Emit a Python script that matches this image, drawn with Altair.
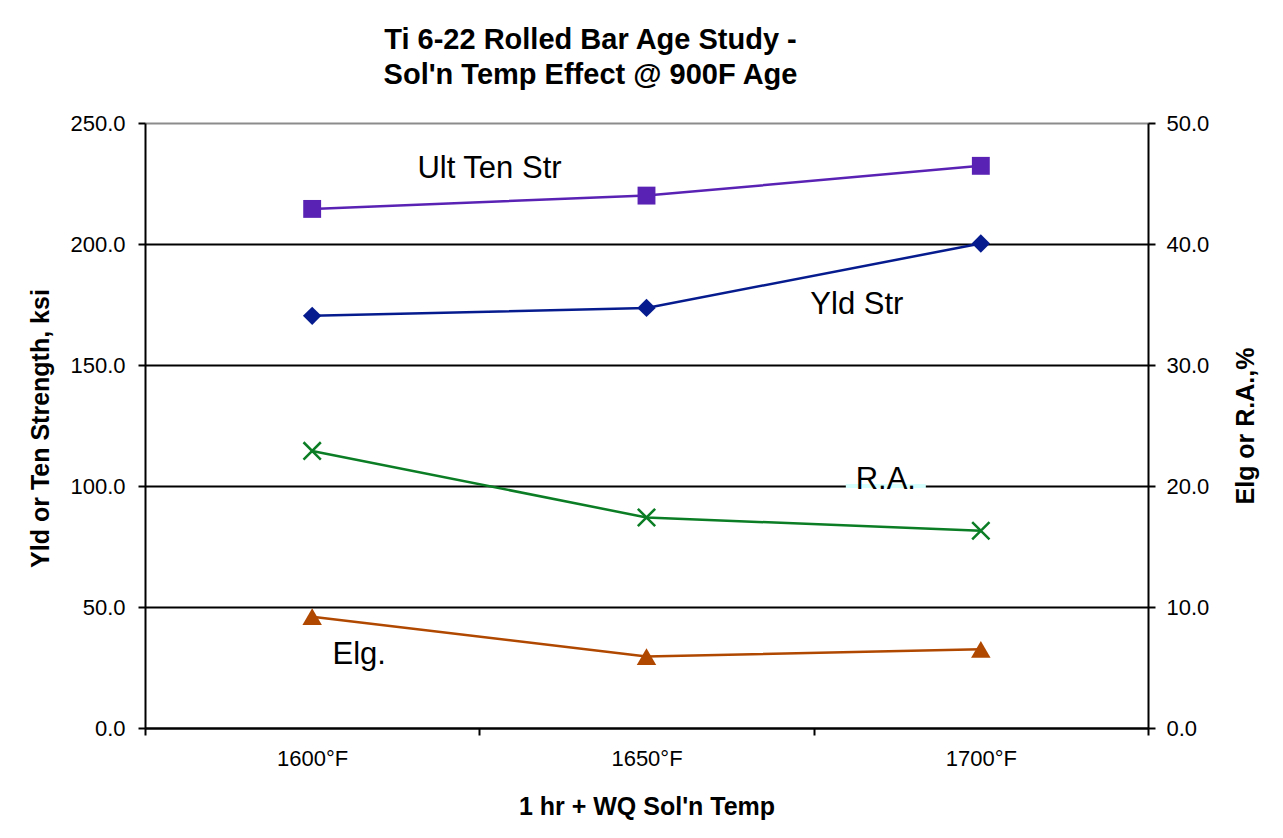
import altair as alt
import pandas as pd

# ---- data ----
categories = ["1600°F", "1650°F", "1700°F"]
ult_ten_str = [214.5, 220.0, 232.3]
yld_str = [170.3, 173.6, 200.2]
red_area = [22.9, 17.4, 16.3]
elongation = [9.2, 5.9, 6.5]

label_text = ["Ult Ten Str", "Yld Str", "R.A.", "Elg."]
label_cat = ["1650°F", "1700°F", "1700°F", "1600°F"]
label_val = [231.0, 174.6, 20.5, 6.0]

left_ticks = [0, 50, 100, 150, 200, 250]
right_ticks = [0, 10, 20, 30, 40, 50]

FONT = "Liberation Sans"
BG = "#D5FFFF"
C_ULT = "#5A22B4"
C_YLD = "#061C8E"
C_RA = "#0B7D24"
C_ELG = "#B04800"

data = pd.DataFrame({"cat": categories, "ult": ult_ten_str, "yld": yld_str,
                     "ra": red_area, "elg": elongation})
ann = pd.DataFrame({"label": label_text, "cat": label_cat, "val": label_val})

x_enc = alt.X(
    "cat:N", sort=categories, bandPosition=0.5,
    scale=alt.Scale(type="band", paddingInner=0, paddingOuter=0),
    axis=alt.Axis(
        title="1 hr + WQ Sol'n Temp", tickBand="extent", labelAngle=0,
        labelFont=FONT, labelFontSize=22, labelColor="black", labelPadding=13,
        labelOverlap=False,
        tickSize=7, tickWidth=2, tickColor="black",
        domainColor="black", domainWidth=2,
        titleFont=FONT, titleFontSize=25, titleFontWeight="bold", titleColor="black",
        titleX=501.5, titleY=78, titleBaseline="middle", titleAlign="center",
        grid=False,
    ),
)

left_axis = alt.Axis(
    title="Yld or Ten Strength, ksi", values=left_ticks, format=".1f",
    labelFont=FONT, labelFontSize=22, labelColor="black", labelPadding=13,
    tickSize=7, tickWidth=2, tickColor="black",
    domainColor="black", domainWidth=2,
    grid=True, gridWidth=2,
    gridColor={"condition": {"test": "datum.value === 250", "value": "#8c8c8c"}, "value": "black"},
    titleFont=FONT, titleFontSize=25, titleFontWeight="bold", titleColor="black",
    titleAngle=-90, titleX=-105, titleY=305, titleAlign="center", titleBaseline="middle",
)
right_axis = alt.Axis(
    title="Elg or R.A.,%", values=right_ticks, format=".1f", orient="right",
    labelFont=FONT, labelFontSize=22, labelColor="black", labelPadding=11,
    tickSize=7, tickWidth=2, tickColor="black",
    domainColor="black", domainWidth=2, grid=False,
    titleFont=FONT, titleFontSize=25, titleFontWeight="bold", titleColor="black",
    titleAngle=-90, titleX=97, titleY=302.5, titleAlign="center", titleBaseline="middle",
)

left_scale = alt.Scale(domain=[0, 250], nice=False, zero=True)
right_scale = alt.Scale(domain=[0, 50], nice=False, zero=True)


def yl(field):
    return alt.Y(field, type="quantitative", scale=left_scale, axis=left_axis)


def yr(field):
    return alt.Y(field, type="quantitative", scale=right_scale, axis=right_axis)


base = alt.Chart(data)

ult_line = base.mark_line(color=C_ULT, strokeWidth=2.5).encode(x=x_enc, y=yl("ult"))
ult_pts = base.mark_point(shape="square", size=320, filled=True, opacity=1, color=C_ULT).encode(x=x_enc, y=yl("ult"))
yld_line = base.mark_line(color=C_YLD, strokeWidth=2.5).encode(x=x_enc, y=yl("yld"))
yld_pts = base.mark_point(shape="diamond", size=340, filled=True, opacity=1, color=C_YLD).encode(x=x_enc, y=yl("yld"))

ann_base = alt.Chart(ann)
txt_kw = dict(font=FONT, fontSize=31, color="black", baseline="middle", align="center")
ult_lbl = ann_base.transform_filter(alt.datum.label == "Ult Ten Str").mark_text(dx=-157, **txt_kw).encode(
    x=x_enc, y=yl("val"), text="label:N")
yld_lbl = ann_base.transform_filter(alt.datum.label == "Yld Str").mark_text(dx=-124, **txt_kw).encode(
    x=x_enc, y=yl("val"), text="label:N")

left = alt.layer(ult_line, ult_pts, yld_line, yld_pts, ult_lbl, yld_lbl)

ra_line = base.mark_line(color=C_RA, strokeWidth=2.5).encode(x=x_enc, y=yr("ra"))
ra_pts = base.mark_point(shape="M-1,-1L1,1M-1,1L1,-1", size=300, filled=False, opacity=1,
                         strokeWidth=2.5, color=C_RA).encode(x=x_enc, y=yr("ra"))
elg_line = base.mark_line(color=C_ELG, strokeWidth=2.5).encode(x=x_enc, y=yr("elg"))
elg_pts = base.mark_point(shape="triangle-up", size=380, filled=True, opacity=1, color=C_ELG).encode(x=x_enc, y=yr("elg"))

# thin background patch behind the "R.A." label that interrupts the gridline
# (custom path shifted left by the label offset; unit = 40 px)
ra_box = ann_base.transform_filter(alt.datum.label == "R.A.").mark_point(
    shape="M-3.375,0.1L-1.375,0.1L-1.375,0.2L-3.375,0.2Z", size=6400, filled=True, opacity=1,
    color=BG, strokeWidth=0).encode(x=x_enc, y=yr("val"))
ra_lbl = ann_base.transform_filter(alt.datum.label == "R.A.").mark_text(dx=-95, **txt_kw).encode(
    x=x_enc, y=yr("val"), text="label:N")
elg_lbl = ann_base.transform_filter(alt.datum.label == "Elg.").mark_text(dx=47, **txt_kw).encode(
    x=x_enc, y=yr("val"), text="label:N")

right = alt.layer(ra_line, ra_pts, elg_line, elg_pts, ra_box, ra_lbl, elg_lbl)

chart = alt.layer(left, right).resolve_scale(y="independent").properties(
    width=1003, height=605,
    autosize=alt.AutoSizeParams(type="none"),
    padding={"left": 137, "top": 115, "right": 127, "bottom": 102},
    title=alt.TitleParams(
        text=["Ti 6-22 Rolled Bar Age Study -", "Sol'n Temp Effect @ 900F Age"],
        font=FONT, fontSize=29, fontWeight="bold", color="black",
        anchor="middle", frame="group", dx=-56, offset=-7, lineHeight=35,
        baseline="bottom",
    ),
).configure_view(
    fill=BG, stroke="#8c8c8c", strokeWidth=2,
).configure(background="white")

chart.save("out.html", embed_options={"renderer": "svg", "actions": False})
